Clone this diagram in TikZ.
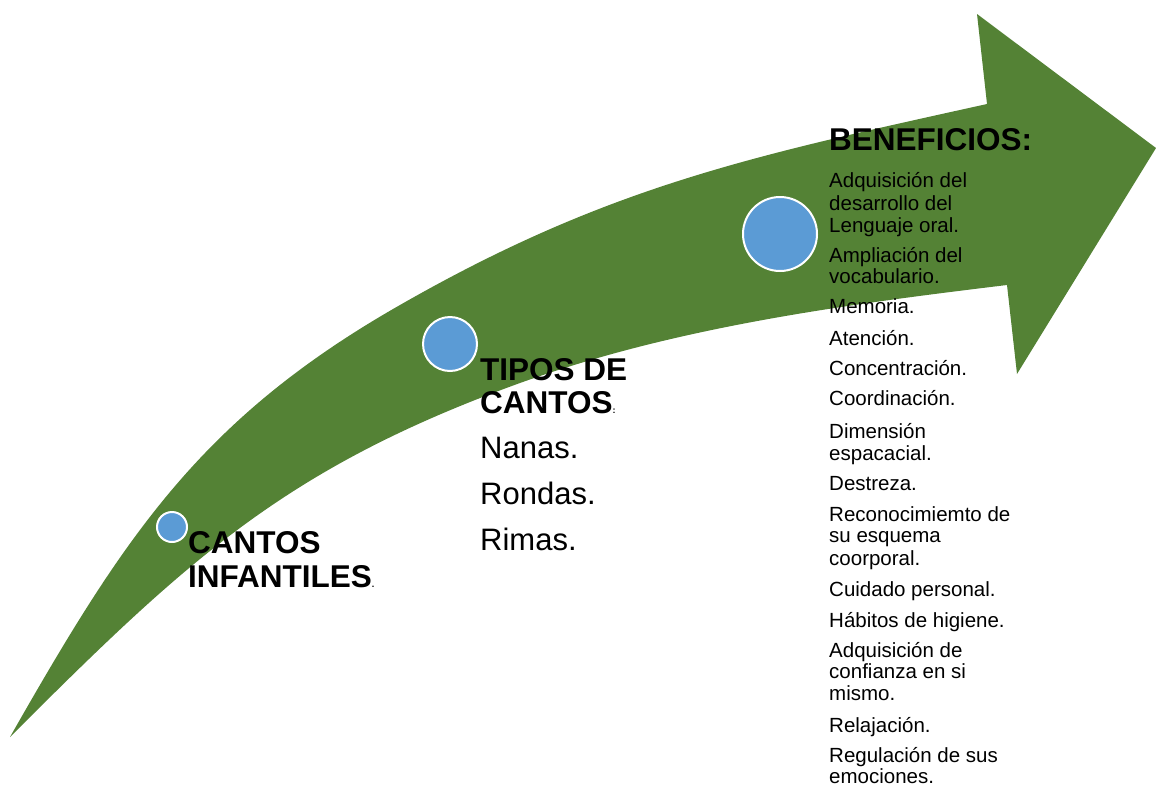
\documentclass[tikz,border=0pt]{standalone}
\usepackage{fontspec}
\setmainfont{Liberation Sans}
\definecolor{arrowgreen}{RGB}{84,130,53}
\definecolor{dotblue}{RGB}{91,155,213}
\newcommand{\tinyp}[1]{{\fontsize{9}{9}\selectfont #1}}
\begin{document}
\begin{tikzpicture}[x=1pt,y=-1pt,
  dot/.style={circle, fill=dotblue, draw=white, line width=2pt, inner sep=0pt},
  headline/.style={anchor=base west, inner sep=0pt, font=\fontsize{31.5}{33}\selectfont\bfseries},
  typeline/.style={anchor=base west, inner sep=0pt, font=\fontsize{31}{33}\selectfont},
  benline/.style={anchor=base west, inner sep=0pt, font=\fontsize{20.5}{22}\selectfont}
]
\useasboundingbox (0,0) rectangle (1156,785);
% curved arrow
\fill[arrowgreen]
  (10,737) .. controls (124,537) and (200,419) .. (400,305)
  .. controls (608,186) and (752,156) .. (987,104)
  -- (977,14) -- (1156,148) -- (1017,374) -- (1007,285)
  .. controls (842,305) and (676,327) .. (520,383)
  .. controls (285,468) and (187,560) .. (10,737)
  -- cycle;
% dots
\node[dot, minimum size=30pt] (d1) at (172,527) {};
\node[dot, minimum size=54pt] (d2) at (450,344) {};
\node[dot, minimum size=74pt] (d3) at (780,234) {};
% cantos infantiles
\node[headline] (c1) at (188,553) {CANTOS};
\node[headline] (c2) at (188,587) {INFANTILES\tinyp{.}};
% tipos de cantos
\node[headline] (t1) at (480,380) {TIPOS DE};
\node[headline] (t2) at (480,413) {CANTOS\tinyp{:}};
\node[typeline] (t3) at (480,458) {Nanas.};
\node[typeline] (t4) at (480,504) {Rondas.};
\node[typeline] (t5) at (480,550) {Rimas.};
% beneficios
\node[headline] (b0) at (829,150) {BENEFICIOS:};
\foreach \y/\t [count=\i] in {
  187/Adquisición del, 210/desarrollo del, 232/Lenguaje oral.,
  262/Ampliación del, 283/vocabulario.,
  313/Memoria., 345/Atención., 375/Concentración., 405/Coordinación.,
  438/Dimensión, 460/espacacial., 490/Destreza.,
  521/Reconocimiemto de, 542/su esquema, 565/coorporal.,
  596/Cuidado personal., 627/Hábitos de higiene.,
  657/Adquisición de, 678/confianza en si, 700/mismo.,
  732/Relajación., 762/Regulación de sus, 783/emociones.}
  \node[benline, name=ben\i] at (829,\y) {\t};
\end{tikzpicture}
\end{document}
